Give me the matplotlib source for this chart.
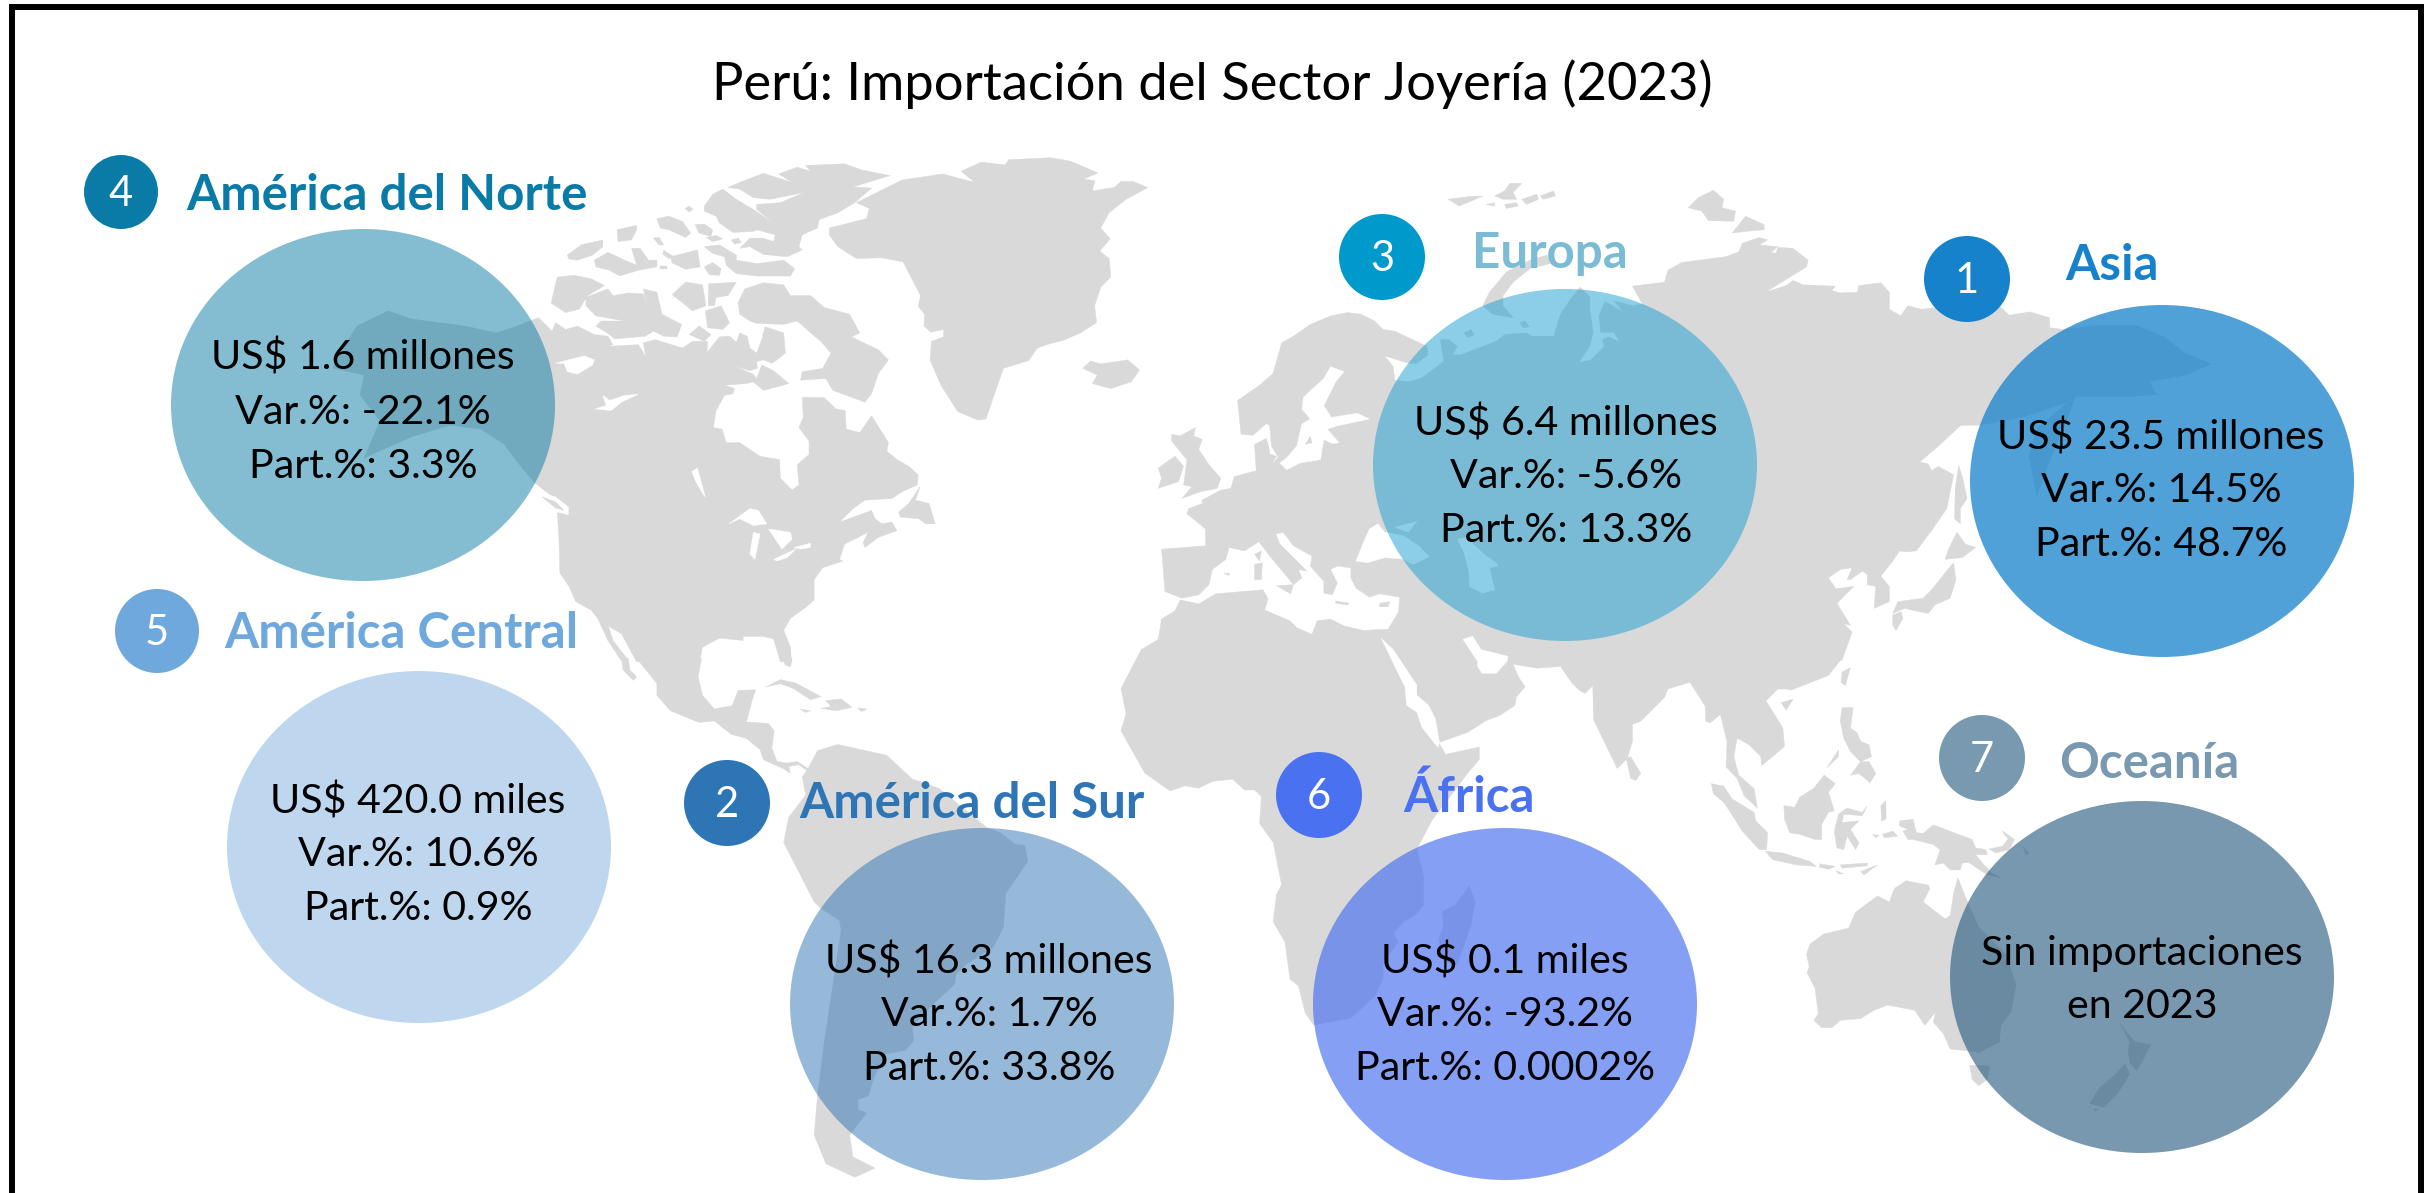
import numpy as np
import matplotlib
matplotlib.use('Agg')
import matplotlib.pyplot as plt
from matplotlib.patches import Ellipse, Polygon

plt.rcParams['font.family'] = ['Lato', 'DejaVu Sans']

# data
title = 'Perú: Importación del Sector Joyería (2023)'
regions = ['Asia', 'América del Sur', 'Europa', 'América del Norte', 'América Central', 'África', 'Oceanía']
ranks = [1, 2, 3, 4, 5, 6, 7]
amounts = ['US$ 23.5 millones', 'US$ 16.3 millones', 'US$ 6.4 millones', 'US$ 1.6 millones',
           'US$ 420.0 miles', 'US$ 0.1 miles', 'Sin importaciones']
var_pct = ['14.5%', '1.7%', '-5.6%', '-22.1%', '10.6%', '-93.2%', None]
part_pct = ['48.7%', '33.8%', '13.3%', '3.3%', '0.9%', '0.0002%', None]
no_data_line = 'en 2023'

# layout, in pixels of the 2430x1193 picture
bubble_x = [2162, 982, 1565, 363, 419, 1505, 2142]
bubble_y = [481, 1004, 465, 405, 847, 1004, 977]
badge_x = [1967, 727, 1382, 121, 157, 1319, 1982]
badge_y = [279, 803, 257, 192, 631, 795, 758]
badge_r = [43, 43, 43, 37, 42, 43, 43]
head_x = [2112, 972, 1550, 387, 401, 1469, 2149]
head_y = [266, 803, 253, 195, 634, 797, 764]
text_x = [2161, 989, 1566, 363, 418, 1505, 2142]
text_y = [437, 961, 423, 358, 801, 961, 953]
badge_col = ['#1682CC', '#2E75B6', '#0099CC', '#0A7BA6', '#6FA8DC', '#4A72F0', '#7899B0']
head_col = ['#1682CC', '#2E75B6', '#7ABBD6', '#0A7BA6', '#6FA8DC', '#4A72F0', '#7899B0']
bubble_col = ['#1682CC', '#2E75B6', '#1B9DD3', '#0A7BA6', '#6FA8DC', '#4A72F0', '#295D82']
bubble_alpha = [0.75, 0.5, 0.5, 0.5, 0.45, 0.68, 0.63]

A = (520, 130, 2.958, 2.958)
B = (520, 660, 2.958, 2.958)
C = (1050, 130, 2.958, 2.958)
D = (1050, 560, 2.958, 2.958)
E = (1580, 130, 2.958, 2.958)
F = (1580, 640, 2.958, 2.958)
N = (1215, 100, 1.29, 2.613)
O = (1700, 650, 2.13, 2.887)


def tr(tile, pts):
    p = np.array(pts, dtype=float)
    return np.column_stack([tile[0] + p[:, 0] / tile[2], tile[1] + p[:, 1] / tile[3]])


north_america = tr(A, [(-553, 704), (-518, 636), (-482, 580), (-390, 535), (-322, 559), (-163, 580), (-71, 600), (-24, 586),
    (55, 555), (95, 595), (105, 570), (135, 590), (170, 580), (220, 605), (260, 610), (275, 635), (260, 640), (350, 635),
    (372, 670), (365, 630), (400, 620), (480, 645), (510, 625), (555, 625), (553, 658), (590, 612), (620, 610), (640, 628),
    (650, 600), (672, 610), (680, 645), (700, 660), (715, 620), (725, 582), (780, 600), (785, 660), (760, 680), (745, 690),
    (720, 680), (700, 685), (702, 705), (680, 712), (630, 697), (690, 722), (700, 735), (715, 695), (750, 712), (795, 750),
    (760, 760), (720, 770), (690, 745), (670, 750), (605, 755), (635, 765), (630, 780), (605, 785), (580, 830), (572, 880),
    (598, 885), (610, 925), (650, 925), (710, 965), (768, 975), (770, 1030), (805, 1065), (825, 1050), (820, 990), (855, 960),
    (855, 920), (825, 880), (838, 850), (835, 790), (900, 792), (935, 825), (962, 830), (965, 885), (1005, 895), (1040, 845),
    (1090, 925), (1085, 950), (1115, 975), (1150, 995), (1178, 1020), (1175, 1050), (1130, 1070), (1100, 1090), (1020, 1095),
    (985, 1120), (945, 1160), (1000, 1140), (1040, 1125), (1050, 1150), (1070, 1165), (1100, 1160), (1115, 1185), (1060, 1205),
    (1020, 1235), (1015, 1220), (1030, 1190), (960, 1225), (945, 1270), (955, 1275), (895, 1295), (870, 1330), (870, 1390),
    (845, 1412), (800, 1445), (780, 1480), (800, 1530), (803, 1573), (770, 1573), (750, 1505), (720, 1498), (660, 1498),
    (660, 1510), (590, 1503), (540, 1530), (530, 1573), (345, 1573), (300, 1490), (262, 1468), (275, 1510), (320, 1568),
    (298, 1568), (260, 1510), (230, 1445), (210, 1420), (165, 1395), (145, 1350), (118, 1310), (115, 1200), (110, 1130),
    (140, 1135), (135, 1115), (44, 1044), (-3, 988), (-47, 929), (-115, 885), (-207, 873), (-322, 908), (-461, 970),
    (-414, 861), (-473, 784), (-461, 725)])
central_america = tr(B, [(345, -5), (405, 70), (405, 105), (445, 150), (530, 185), (575, 180), (625, 220), (670, 232), (710, 265),
    (720, 295), (780, 322), (800, 335), (795, 315), (825, 310), (860, 335), (850, 320), (820, 300), (790, 305), (760, 300),
    (745, 260), (752, 210), (735, 188), (670, 183), (685, 125), (697, 88), (645, 90), (628, 135), (575, 145), (540, 105),
    (527, 50), (537, -5)])
south_america = tr(B, [(850, 325), (880, 268), (940, 250), (1085, 282), (1160, 352), (1240, 380), (1380, 495), (1420, 510),
    (1465, 545), (1493, 548), (1502, 595), (1437, 690), (1430, 790), (1400, 850), (1320, 900), (1290, 930), (1285, 960),
    (1220, 1020), (1160, 1085), (1165, 1125), (1140, 1155), (1080, 1165), (1045, 1240), (1030, 1290), (1000, 1300), (1000, 1330),
    (1025, 1340), (975, 1405), (985, 1470), (1050, 1503), (990, 1530), (905, 1490), (870, 1405), (880, 1290), (900, 1130),
    (950, 800), (945, 770), (890, 735), (870, 715), (780, 540), (795, 465), (845, 400), (835, 345)])
greenland = np.vstack([
    tr(A, [(915, 290), (1025, 262), (1033, 232), (995, 215), (1130, 148), (1250, 130), (1345, 155), (1305, 122), (1365, 95),
           (1435, 103), (1445, 88), (1568, 82)]),
    tr(C, [(60, 92), (142, 127), (100, 145), (133, 150), (125, 180), (190, 170), (210, 152), (245, 152), (290, 170), (225, 205),
           (175, 245), (150, 290), (178, 322), (147, 358), (175, 380), (180, 435), (150, 465), (132, 520), (138, 570), (90, 600),
           (40, 622), (0, 632)]),
    tr(A, [(1530, 645), (1505, 682), (1430, 705), (1378, 855), (1355, 858), (1295, 833), (1245, 755), (1213, 680), (1217, 625),
           (1253, 612), (1253, 590), (1215, 598), (1195, 580), (1197, 545), (1178, 522), (1185, 490), (1133, 390), (1070, 378),
           (995, 380), (940, 345), (915, 310)])])
eurasia_africa = np.vstack([
    tr(C, [(685, 630), (720, 610), (770, 575), (830, 550), (880, 540), (920, 545), (960, 565), (985, 590), (1020, 595), (1115, 640),
           (1118, 665), (1085, 690), (1060, 690), (990, 668), (1015, 700), (1020, 740), (1060, 745), (1100, 733), (1165, 685),
           (1155, 620), (1180, 620), (1205, 640), (1190, 665), (1215, 665), (1320, 625), (1345, 605), (1410, 600), (1425, 610),
           (1490, 610), (1510, 545), (1540, 500), (1568, 465)]),
    tr(E, [(25, 490), (80, 510), (130, 540), (100, 505), (155, 520), (185, 515), (155, 462), (250, 450), (260, 415), (300, 392),
           (430, 375), (470, 360), (480, 335), (530, 318), (555, 325), (530, 340), (585, 345), (565, 362), (580, 365), (585, 347),
           (630, 350), (675, 385), (670, 405), (548, 480), (610, 460), (630, 445), (660, 458), (755, 462), (745, 475), (770, 482),
           (820, 480), (825, 460), (890, 452), (915, 480), (915, 530), (948, 550), (970, 520), (1010, 530), (1060, 525), (1145, 530),
           (1240, 520), (1270, 548), (1330, 538), (1388, 555), (1390, 585), (1430, 590)]),
    tr(N, [(1130, 590), (1190, 590), (1225, 620), (1250, 660), (1285, 690), (1250, 720), (1205, 735), (1215, 770), (1175, 775),
           (1110, 775), (1100, 830), (1075, 950), (1060, 1035), (1050, 930), (1060, 860), (1100, 790), (1040, 830), (985, 850),
           (950, 850)]),
    tr(E, [(1130, 870), (1060, 935), (1005, 982), (1030, 988), (1040, 1008), (1060, 995), (1105, 1020), (1085, 1120), (1040, 1185),
           (995, 1245), (965, 1248), (945, 1245), (925, 1275), (890, 1320), (915, 1350), (915, 1395), (870, 1415), (875, 1350),
           (850, 1345), (850, 1315), (835, 1305), (800, 1330), (790, 1330), (805, 1295), (770, 1300), (735, 1325), (757, 1357),
           (810, 1350), (760, 1400), (800, 1465), (780, 1460), (805, 1485), (775, 1568)]),
    tr(F, [(770, 60), (735, 105), (625, 148), (610, 145), (585, 145), (550, 180), (600, 260), (605, 315), (537, 372), (535, 345),
           (500, 310), (465, 290), (455, 345), (470, 400), (515, 440), (525, 498), (485, 460), (465, 410), (432, 375), (435, 300),
           (415, 220), (385, 245), (372, 240), (370, 195), (325, 125), (260, 145), (250, 170), (180, 240), (155, 250), (155, 300),
           (140, 350), (110, 380), (40, 235), (38, 135), (15, 158), (0, 150)]),
    tr(D, [(1545, 365), (1510, 315), (1440, 320), (1370, 308), (1385, 345), (1405, 375), (1380, 405), (1375, 430), (1330, 460),
           (1290, 475), (1235, 510), (1150, 540), (1170, 575), (1270, 553), (1270, 590), (1240, 625), (1130, 770), (1085, 855),
           (1105, 935), (1105, 1020), (1080, 1050), (1045, 1070), (1015, 1105), (1030, 1130), (985, 1190), (985, 1240), (960, 1290),
           (890, 1355), (780, 1375), (755, 1340), (735, 1260), (710, 1240), (695, 1130), (660, 1070), (670, 990), (685, 960),
           (660, 835), (620, 780), (625, 700), (605, 680), (575, 680), (540, 648), (480, 655), (440, 675), (400, 668), (355, 683),
           (280, 630), (210, 505), (225, 455), (210, 380), (270, 265), (320, 235), (330, 175), (370, 150), (385, 118), (440, 130),
           (490, 100), (550, 95), (630, 88), (645, 115), (635, 148), (710, 180), (730, 200), (775, 220), (790, 180), (830, 175),
           (870, 195), (925, 208), (1000, 205), (1030, 155), (1035, 110)]),
    tr(C, [(975, 1372), (945, 1382), (905, 1355), (890, 1325), (890, 1295), (850, 1290), (830, 1300), (850, 1340), (835, 1375),
           (810, 1370), (810, 1335), (770, 1290), (775, 1260), (720, 1230), (690, 1190), (668, 1195), (680, 1225), (760, 1305),
           (735, 1300), (745, 1325), (720, 1345), (700, 1320), (650, 1260), (618, 1218), (575, 1245), (530, 1235), (520, 1270),
           (480, 1300), (470, 1345), (440, 1375), (390, 1385), (340, 1365), (330, 1240), (460, 1230), (460, 1180), (405, 1135),
           (410, 1120), (450, 1105), (450, 1095), (505, 1065), (535, 1060), (545, 1025), (610, 1008), (605, 930), (640, 912),
           (650, 950), (640, 990), (660, 985), (675, 968), (655, 935), (650, 875), (640, 868), (600, 903), (565, 900), (555, 800),
           (620, 755), (660, 720)])])
islands = [
    tr(A, [(545, 225), (570, 190), (600, 175), (640, 205), (690, 235), (750, 275), (690, 300), (630, 303), (590, 275), (580, 255), (545, 240)]),
    tr(A, [(615, 170), (650, 155), (720, 128), (805, 155), (765, 130), (820, 110), (860, 122), (845, 105), (960, 100), (1010, 118),
           (1095, 135), (985, 168), (1040, 172), (990, 215), (940, 245), (885, 265), (880, 290), (835, 310), (825, 345), (835, 355),
           (790, 375), (720, 368), (680, 345), (650, 350), (680, 320), (720, 320), (750, 330), (755, 310), (700, 295), (750, 275),
           (700, 235), (700, 220), (770, 215), (840, 185), (740, 205), (690, 200), (650, 175)]),
    tr(A, [(545, 345), (590, 340), (640, 370), (640, 385), (700, 395), (780, 385), (812, 410), (800, 432), (700, 432), (640, 425),
           (610, 400), (605, 375), (570, 365)]),
    tr(A, [(545, 405), (570, 392), (595, 410), (590, 430), (560, 428)]),
    tr(A, [(405, 262), (440, 255), (480, 270), (505, 305), (490, 318), (440, 295), (415, 290)]),
    tr(A, [(518, 280), (545, 278), (570, 295), (565, 315), (530, 305)]),
    tr(A, [(395, 320), (412, 318), (425, 340), (412, 340)]),
    tr(A, [(550, 318), (580, 312), (600, 322), (570, 330)]),
    tr(A, [(625, 325), (645, 320), (655, 332), (635, 338)]),
    tr(A, [(488, 232), (500, 225), (512, 235), (500, 242)]),
    tr(A, [(140, 370), (180, 340), (245, 325), (245, 345), (215, 370), (170, 385), (145, 382)]),
    tr(A, [(220, 385), (260, 362), (310, 385), (345, 400), (330, 350), (355, 350), (380, 385), (405, 385), (405, 405), (350, 415),
           (295, 432), (265, 415), (225, 405)]),
    tr(A, [(287, 295), (345, 282), (345, 295), (330, 325), (290, 330)]),
    tr(A, [(425, 355), (455, 375), (440, 380), (422, 368)]),
    tr(A, [(445, 375), (525, 355), (533, 405), (490, 412), (450, 393)]),
    tr(A, [(415, 402), (435, 402), (435, 410), (415, 410)]),
    tr(A, [(110, 435), (160, 430), (210, 440), (250, 460), (200, 490), (175, 530), (135, 540), (92, 512)]),
    tr(A, [(195, 495), (260, 470), (275, 490), (320, 482), (365, 485), (375, 520), (365, 470), (405, 480), (420, 545), (478, 575),
           (465, 612), (425, 610), (395, 595), (370, 610), (280, 618), (265, 605), (225, 580), (240, 565), (310, 565), (225, 550), (195, 520)]),
    tr(A, [(450, 487), (490, 450), (540, 458), (550, 520), (510, 535), (480, 510)]),
    tr(A, [(558, 455), (640, 450), (615, 490), (580, 495), (575, 520), (557, 520)]),
    tr(A, [(548, 535), (595, 520), (620, 570), (600, 590), (555, 585)]),
    tr(A, [(500, 605), (530, 580), (565, 605), (545, 625)]),
    tr(A, [(645, 510), (665, 470), (720, 452), (780, 458), (800, 490), (860, 490), (900, 525), (975, 545), (1005, 600), (980, 612),
           (1060, 650), (1090, 680), (1060, 720), (1040, 780), (1020, 805), (925, 770), (905, 735), (830, 740), (835, 715), (895, 705),
           (920, 660), (890, 625), (860, 600), (820, 565), (780, 575), (700, 572), (680, 565), (650, 545)]),
    tr(A, [(1183, 1055), (1170, 1095), (1210, 1105), (1228, 1165), (1200, 1165), (1180, 1150), (1125, 1145), (1120, 1130), (1150, 1105)]),
    tr(B, [(727, 80), (770, 58), (815, 68), (890, 108), (860, 118), (810, 85), (770, 70)]),
    tr(B, [(905, 120), (950, 115), (982, 140), (935, 150), (890, 143), (920, 138)]),
    tr(B, [(828, 145), (860, 150), (845, 155)]),
    tr(B, [(1000, 142), (1025, 145), (1010, 153)]),
    tr(B, [(775, -5), (805, -5), (800, 20), (785, 15)]),
    tr(B, [(300, -5), (320, -5), (325, 30), (345, 50), (335, 60), (305, 30)]),
    tr(C, [(97, 705), (120, 683), (150, 692), (230, 680), (265, 710), (240, 745), (180, 765), (125, 750), (140, 725)]),
    tr(C, [(360, 900), (385, 905), (430, 880), (425, 905), (450, 915), (440, 945), (470, 990), (505, 1030), (495, 1060), (445, 1070),
           (390, 1090), (420, 1055), (395, 1050), (400, 1015), (405, 975), (380, 945), (360, 920)]),
    tr(C, [(320, 1000), (370, 965), (395, 995), (380, 1040), (320, 1060), (330, 1030)]),
    tr(C, [(670, 1348), (720, 1345), (712, 1372)]),
    tr(C, [(605, 1285), (628, 1280), (625, 1330), (605, 1330)]),
    tr(C, [(605, 1255), (625, 1245), (620, 1275)]),
    tr(C, [(515, 1312), (530, 1310), (530, 1318)]),
    tr(C, [(845, 1393), (885, 1400), (880, 1405), (845, 1400)]),
    tr(C, [(975, 1400), (1005, 1395), (1000, 1410), (975, 1410)]),
    tr(C, [(1178, 205), (1240, 197), (1280, 195), (1235, 215), (1210, 225), (1190, 212)]),
    tr(C, [(1315, 195), (1345, 180), (1360, 158), (1395, 158), (1370, 185), (1380, 205), (1340, 205)]),
    tr(C, [(1395, 205), (1440, 190), (1445, 205), (1410, 220)]),
    tr(C, [(1450, 195), (1490, 180), (1495, 195), (1460, 205)]),
    tr(C, [(1345, 220), (1380, 215), (1385, 225), (1350, 232)]),
    tr(C, [(1290, 220), (1315, 215), (1315, 225)]),
    tr(C, [(1280, 520), (1300, 480), (1350, 420), (1420, 385), (1470, 370), (1480, 395), (1420, 410), (1370, 450), (1340, 490),
           (1340, 520), (1370, 555), (1310, 545)]),
    tr(C, [(1225, 600), (1245, 590), (1255, 605), (1235, 615)]),
    tr(C, [(1390, 570), (1405, 565), (1418, 582), (1400, 585)]),
    tr(E, [(320, 230), (350, 200), (395, 178), (425, 205), (420, 230), (460, 240), (455, 270), (380, 268), (360, 240)]),
    tr(E, [(450, 305), (490, 255), (545, 280), (545, 295), (490, 300)]),
    tr(E, [(1120, 992), (1132, 1030), (1145, 1090), (1125, 1120), (1125, 1165), (1108, 1150), (1110, 1060)]),
    tr(E, [(1115, 1190), (1140, 1225), (1170, 1235), (1130, 1265), (1080, 1270), (1090, 1240)]),
    tr(E, [(1105, 1280), (1112, 1330), (1095, 1385), (1050, 1405), (1030, 1430), (1005, 1425), (960, 1415), (925, 1430), (940, 1395),
           (1015, 1385), (1040, 1360), (1080, 1310)]),
    tr(E, [(925, 1435), (950, 1425), (955, 1445), (935, 1480), (925, 1465)]),
    tr(F, [(775, 95), (800, 82), (785, 135), (772, 125)]),
    tr(F, [(595, 185), (630, 175), (610, 208)]),
    tr(F, [(775, 200), (808, 200), (800, 260), (820, 275), (830, 300), (855, 310), (862, 345), (830, 360), (855, 360), (875, 395),
           (858, 422), (825, 395), (800, 400), (830, 360), (800, 330), (780, 290), (770, 240)]),
    tr(F, [(730, 378), (765, 325), (765, 345)]),
    tr(F, [(388, 425), (425, 432), (450, 470), (515, 510), (520, 535), (555, 570), (552, 620), (530, 620), (480, 565), (445, 510),
           (425, 480), (395, 455)]),
    tr(F, [(548, 625), (600, 630), (680, 655), (700, 670), (640, 665), (570, 650)]),
    tr(F, [(710, 662), (755, 670), (735, 678), (708, 672)]),
    tr(F, [(770, 665), (850, 660), (850, 668), (775, 675)]),
    tr(F, [(830, 685), (880, 665), (840, 695)]),
    tr(F, [(757, 682), (780, 692), (765, 692)]),
    tr(F, [(603, 490), (635, 495), (650, 465), (690, 440), (722, 400), (755, 425), (735, 450), (752, 505), (735, 510), (715, 545),
           (715, 590), (695, 590), (650, 575), (620, 570), (605, 530)]),
    tr(F, [(765, 515), (790, 497), (835, 510), (850, 490), (835, 520), (780, 515), (775, 540), (825, 535), (800, 560), (825, 600),
           (815, 620), (790, 580), (780, 620), (760, 615), (752, 565)]),
    tr(F, [(890, 490), (905, 475), (905, 530), (892, 535)]),
    tr(F, [(865, 575), (885, 578), (875, 585)]),
    tr(F, [(895, 575), (925, 565), (940, 580), (900, 585)]),
    tr(F, [(945, 535), (985, 530), (995, 570), (1015, 572), (1045, 547), (1160, 590), (1170, 615), (1200, 620), (1205, 635),
           (1170, 635), (1195, 665), (1220, 690), (1245, 703), (1205, 695), (1150, 658), (1130, 660), (1125, 680), (1095, 680),
           (1075, 660), (1050, 665), (1065, 620), (1045, 605), (985, 590), (970, 590), (955, 565), (970, 560), (945, 550)]),
    tr(F, [(1210, 618), (1250, 610), (1265, 590), (1285, 590), (1270, 620), (1230, 630)]),
    tr(F, [(1250, 565), (1285, 590), (1278, 600), (1255, 575)]),
    tr(F, [(1310, 610), (1330, 632), (1318, 635)]),
    tr(F, [(137, 350), (150, 345), (180, 395), (165, 415), (150, 410)]),
    tr(F, [(670, 930), (680, 900), (720, 870), (795, 852), (815, 805), (880, 757), (915, 775), (930, 735), (965, 712), (1030, 725),
           (1035, 735), (1015, 775), (1080, 825), (1095, 815), (1105, 750), (1118, 703), (1140, 760), (1180, 850), (1260, 930),
           (1290, 1020), (1275, 1100), (1245, 1140), (1240, 1190), (1180, 1220), (1145, 1215), (1095, 1210), (1075, 1165), (1045, 1130),
           (1052, 1100), (1020, 1140), (990, 1095), (910, 1080), (870, 1095), (830, 1120), (770, 1125), (745, 1147), (715, 1147),
           (692, 1125), (705, 1105), (695, 1030), (672, 985), (678, 965)]),
    tr(F, [(1153, 1258), (1212, 1260), (1205, 1300), (1180, 1318), (1160, 1300)]),
    tr(O, [(895, 1080), (925, 1130), (960, 1140), (945, 1180), (930, 1215), (915, 1190), (912, 1160), (915, 1130)]),
    tr(O, [(905, 1195), (915, 1225), (890, 1280), (860, 1320), (830, 1310), (850, 1265), (885, 1225)]),
    tr(O, [(838, 1325), (848, 1325), (842, 1332)]),
    tr(D, [(1240, 965), (1258, 1010), (1245, 1080), (1205, 1195), (1165, 1190), (1150, 1120), (1165, 1080), (1160, 1040), (1200, 1020)]),
]
water = [
    tr(A, [(105, 690), (190, 668), (220, 680), (215, 695), (170, 722), (140, 715), (130, 690)]),
    tr(A, [(222, 825), (255, 815), (245, 785), (265, 800), (310, 785), (350, 782), (300, 805), (270, 830)]),
    tr(A, [(508, 1010), (525, 1000), (548, 1085), (540, 1075), (520, 1040)]),
    tr(A, [(618, 1165), (680, 1120), (705, 1125), (730, 1165), (690, 1170), (650, 1150)]),
    tr(A, [(690, 1190), (710, 1195), (695, 1270), (680, 1255)]),
    tr(A, [(735, 1180), (800, 1190), (805, 1210), (775, 1240), (745, 1195)]),
    tr(A, [(750, 1270), (815, 1240), (790, 1265), (760, 1275)]),
    tr(A, [(810, 1235), (860, 1222), (858, 1235), (830, 1240)]),
    tr(A, [(845, 640), (860, 622), (880, 630), (875, 660), (855, 658)]),
    tr(A, [(50, 1070), (105, 1085), (143, 1115), (143, 1138), (110, 1130), (55, 1085)]),
    tr(C, [(700, 970), (730, 935), (745, 870), (770, 855), (745, 825), (750, 790), (810, 735), (830, 700), (870, 715), (845, 745),
           (810, 815), (832, 850), (910, 838), (945, 855), (850, 875), (820, 885), (855, 925), (835, 928), (810, 915), (800, 975),
           (740, 985), (700, 1005), (680, 985)]),
    tr(C, [(905, 1275), (925, 1225), (945, 1180), (970, 1165), (990, 1190), (1020, 1195), (1045, 1200), (1090, 1230), (1122, 1262),
           (1075, 1285), (1040, 1268), (990, 1265), (940, 1280)]),
    tr(C, [(1020, 1175), (1085, 1158), (1060, 1190)]),
    tr(C, [(1205, 1210), (1230, 1205), (1290, 1260), (1320, 1280), (1325, 1290), (1300, 1295), (1315, 1360), (1280, 1370), (1240, 1350),
           (1240, 1310), (1225, 1250)]),
    tr(E, [(30, 490), (75, 500), (55, 550), (60, 600), (100, 600), (115, 625), (85, 610), (65, 620), (70, 640), (30, 680), (0, 685),
           (30, 640), (40, 600), (35, 560), (30, 530)]),
    tr(D, [(980, 232), (1015, 265), (1055, 325), (1085, 370), (1085, 400), (1120, 430), (1140, 470), (1152, 540), (1148, 555), (1100, 495),
           (1085, 450), (1055, 430), (1050, 375), (1030, 335)]),
    tr(D, [(1222, 235), (1250, 225), (1275, 265), (1355, 285), (1352, 300), (1320, 335), (1278, 335), (1265, 315), (1265, 300)]),
]
inland_islands = [
    tr(C, [(625, 970), (640, 955), (670, 965), (655, 990), (635, 985)]),
    tr(C, [(755, 930), (770, 905), (775, 925)]),
    tr(A, [(65, 1085), (105, 1100), (130, 1125), (105, 1118)]),
]

fig = plt.figure(figsize=(24.3, 11.93), dpi=100)
ax = fig.add_axes([0, 0, 1, 1])
ax.set_xlim(0, 2430)
ax.set_ylim(1193, 0)
ax.axis('off')

land = '#D9D9D9'
for poly in [north_america, central_america, south_america, greenland, eurasia_africa] + islands:
    ax.add_patch(Polygon(poly, closed=True, fc=land, ec=land, lw=0.3, zorder=1))
for poly in water:
    ax.add_patch(Polygon(poly, closed=True, fc='white', ec='white', lw=0.3, zorder=2))
for poly in inland_islands:
    ax.add_patch(Polygon(poly, closed=True, fc=land, ec=land, lw=0.3, zorder=3))

for i in range(len(regions)):
    ax.add_patch(Ellipse((bubble_x[i], bubble_y[i]), 384, 352, fc=bubble_col[i], alpha=bubble_alpha[i], ec='none', zorder=4))
    ax.add_patch(Ellipse((badge_x[i], badge_y[i]), badge_r[i] * 2, badge_r[i] * 2, fc=badge_col[i], ec='none', zorder=5))
    ax.text(badge_x[i], badge_y[i] + 2, str(ranks[i]), color='white', fontsize=30, ha='center', va='center', zorder=6)
    ax.text(head_x[i], head_y[i], regions[i], color=head_col[i], fontsize=35.5, fontweight='bold', ha='center', va='center', zorder=6)
    if var_pct[i] is None:
        lines = [amounts[i], no_data_line]
    else:
        lines = [amounts[i], 'Var.%: ' + var_pct[i], 'Part.%: ' + part_pct[i]]
    for j, line in enumerate(lines):
        ax.text(text_x[i], text_y[i] + j * 54, line, color='black', fontsize=29.6, ha='center', va='center', zorder=6)

ax.text(1212, 84, title, color='black', fontsize=37.8, ha='center', va='center', zorder=6)

# frame, open at the bottom
ax.plot([11.5, 11.5, 2421, 2421], [1193, 6.5, 6.5, 1193], color='black', lw=4.3, solid_joinstyle='miter', zorder=7)

fig.savefig('out.png', dpi=100)
